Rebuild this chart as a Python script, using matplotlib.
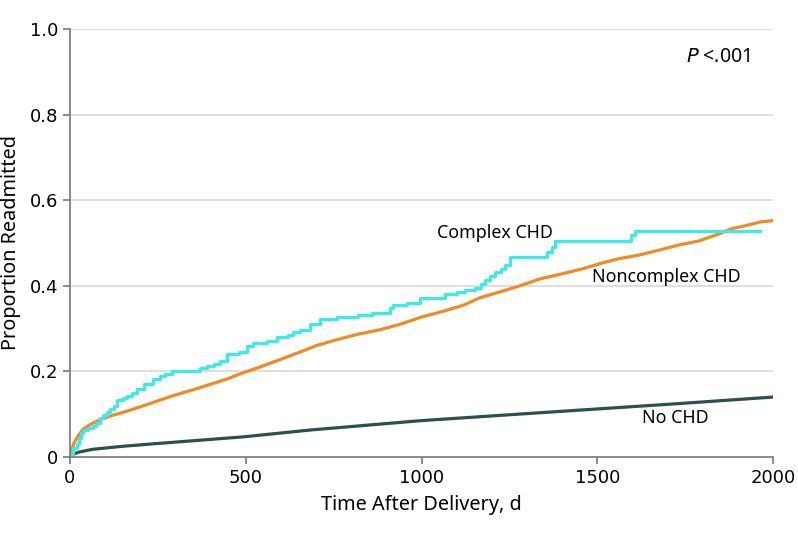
import matplotlib.pyplot as plt
import matplotlib

matplotlib.rcParams['font.family'] = ['DejaVu Sans']
matplotlib.rcParams['font.size'] = 13

# Complex CHD (step curve)
complex_t = [0, 5, 10, 20, 25, 30, 37, 50, 65, 75, 85, 95, 105, 115, 125, 134, 150, 162,
             175, 190, 210, 236, 255, 270, 290, 370, 390, 410, 427, 446, 480, 503, 520,
             560, 590, 620, 635, 654, 683, 711, 760, 819, 860, 910, 920, 960, 996, 1067,
             1100, 1124, 1152, 1170, 1180, 1195, 1209, 1225, 1237, 1252, 1340, 1357, 1370,
             1380, 1585, 1595, 1607, 1963]
complex_v = [0, 0.01, 0.02, 0.03, 0.045, 0.055, 0.062, 0.067, 0.072, 0.08, 0.09, 0.097,
             0.105, 0.112, 0.12, 0.133, 0.137, 0.142, 0.15, 0.16, 0.17, 0.182, 0.19, 0.195,
             0.2, 0.207, 0.212, 0.218, 0.225, 0.24, 0.245, 0.26, 0.266, 0.272, 0.28, 0.285,
             0.292, 0.297, 0.31, 0.322, 0.326, 0.332, 0.336, 0.348, 0.355, 0.36, 0.372,
             0.38, 0.385, 0.39, 0.395, 0.405, 0.413, 0.422, 0.432, 0.44, 0.449, 0.467,
             0.467, 0.479, 0.49, 0.505, 0.505, 0.519, 0.528, 0.528]

# Noncomplex CHD
nonc_t = [0, 10, 20, 37, 60, 85, 120, 162, 210, 256, 300, 350, 400, 446, 493, 540, 589,
          654, 700, 750, 820, 880, 939, 1000, 1060, 1120, 1166, 1220, 1280, 1337, 1400,
          1460, 1508, 1560, 1620, 1679, 1730, 1790, 1849, 1880, 1920, 1963, 1997]
nonc_v = [0, 0.03, 0.045, 0.065, 0.077, 0.087, 0.097, 0.107, 0.12, 0.133, 0.145, 0.157,
          0.17, 0.182, 0.197, 0.21, 0.225, 0.245, 0.26, 0.272, 0.287, 0.297, 0.31, 0.327,
          0.34, 0.355, 0.372, 0.385, 0.4, 0.416, 0.428, 0.44, 0.452, 0.463, 0.472, 0.484,
          0.495, 0.505, 0.522, 0.533, 0.54, 0.549, 0.552]

# No CHD
nochd_t = [0, 10, 28, 65, 150, 256, 493, 683, 1000, 1366, 1700, 2000]
nochd_v = [0, 0.007, 0.012, 0.018, 0.025, 0.032, 0.047, 0.063, 0.085, 0.105, 0.123, 0.14]

fig = plt.figure(figsize=(7.98, 5.43), dpi=100)
ax = fig.add_axes([0.0877, 0.1584, 0.8810, 0.7882])

ax.plot(nochd_t, nochd_v, color='#2b514c', lw=2.3)
ax.plot(nonc_t, nonc_v, color='#ef8a25', lw=2.3)
ax.plot(complex_t, complex_v, color='#3ceaea', lw=2.3, drawstyle='steps-post')

ax.set_xlim(0, 2000)
ax.set_ylim(0, 1.0)
ax.set_xticks([0, 500, 1000, 1500, 2000])
ax.set_yticks([0, 0.2, 0.4, 0.6, 0.8, 1.0])
ax.set_yticklabels(['0', '0.2', '0.4', '0.6', '0.8', '1.0'])
for y in [0.2, 0.4, 0.6, 0.8, 1.0]:
    ax.axhline(y, color='#d9d9d9', lw=1.2, zorder=0)

for s in ['top', 'right']:
    ax.spines[s].set_visible(False)
for s in ['left', 'bottom']:
    ax.spines[s].set_color('#777777')
    ax.spines[s].set_linewidth(1.2)
ax.tick_params(colors='#777777', labelcolor='black', length=5, width=1.2, labelsize=13)

lab_font = 'Noto Sans'
ax.set_xlabel('Time After Delivery, d', fontsize=14.3, family=lab_font, labelpad=6)
ax.set_ylabel('Proportion Readmitted', fontsize=14.3, family=lab_font, labelpad=6)

ax.text(1209, 0.523, 'Complex CHD', fontsize=12.8, family=lab_font, ha='center', va='center')
ax.text(1697, 0.42, 'Noncomplex CHD', fontsize=12.8, family=lab_font, ha='center', va='center')
ax.text(1722, 0.091, 'No CHD', fontsize=12.8, family=lab_font, ha='center', va='center')
ax.text(1935, 0.935, r'$\it{P}$ <.001', fontsize=14, family=lab_font, ha='right', va='center')

fig.savefig('out.png', dpi=100)
